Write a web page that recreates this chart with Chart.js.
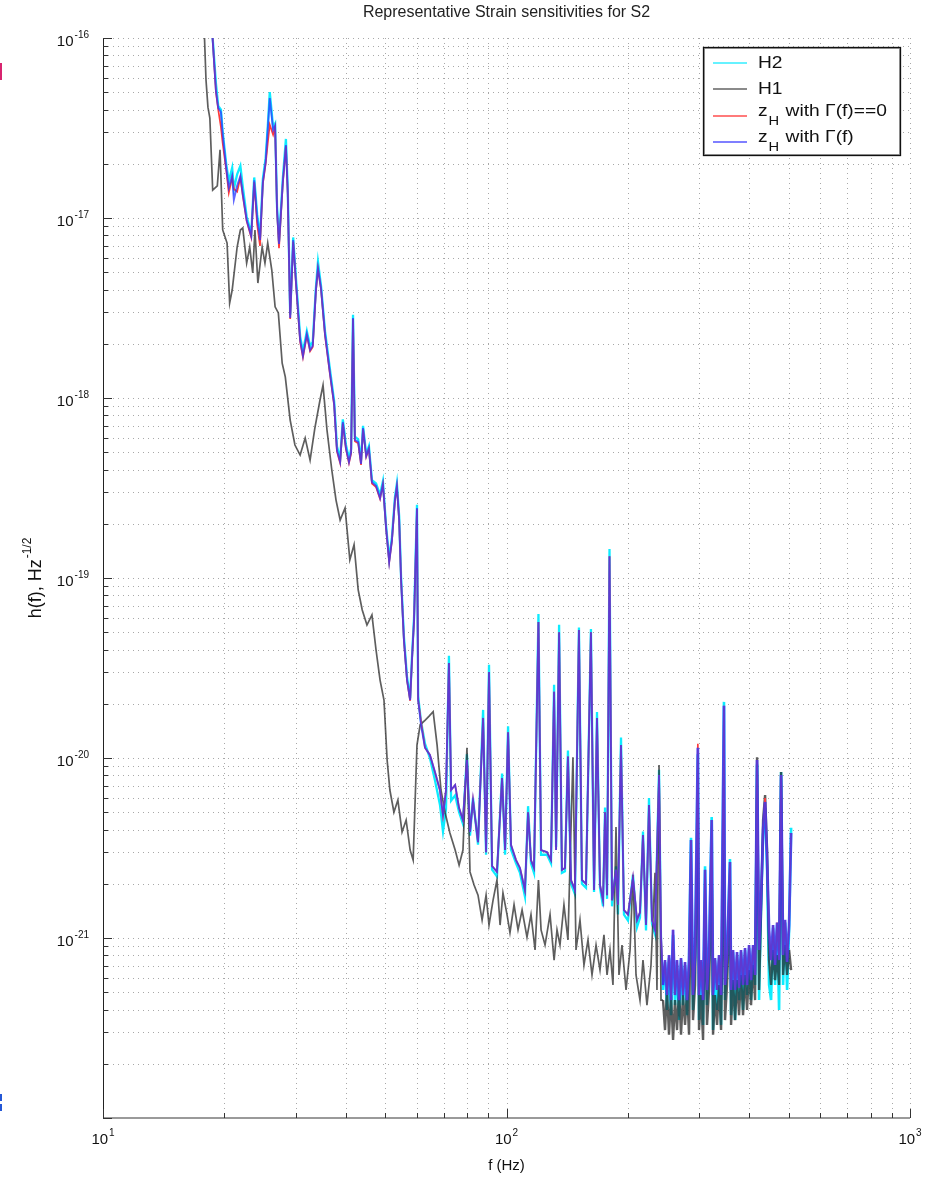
<!DOCTYPE html>
<html><head><meta charset="utf-8">
<script src="https://cdn.jsdelivr.net/npm/chart.js@4.4.1/dist/chart.umd.min.js"></script>
<style>html,body{margin:0;padding:0;background:#fff;}#wrap{width:944px;height:1180px;}</style>
</head><body><div id="wrap"><canvas id="c" width="944" height="1180"></canvas></div>
<script>
// ---- data (f in Hz, h in Hz^-1/2) ----
// Low / mid frequency part, shared by H2 and the two z_H curves
const freqZLow = [18.6,19.05,19.3,19.6,19.8,20.2,20.5,20.9,21.1,21.5,21.9,22.2,22.7,23.3,23.7,24.1,24.5,24.9,25.3,25.6,
25.9,26.4,26.7,27.0,27.3,27.9,28.4,28.7,29.1,29.6,30.1,30.8,31.3,32.0,32.6,33.1,33.7,34.1,34.7,35.5,
36.5,37.4,38.0,38.7,39.3,40.0,40.7,41.2,41.65,42.1,42.9,43.6,44.1,44.9,45.6,46.4,47.5,48.6,49.4,50.3,
51.2,52.0,52.9,53.5,54.2,54.8,55.7,56.7,57.7,58.3,59.0,60.0,60.4,61.4,62.8,64.6,66.5,68.4,69.6,70.8,
72.0,72.9,74.6,76.3,78.0,79.8,81.2,82.6,85.0,87.5,89.0,90.5,92.1,94.7,97.5,99.2,100.9,102.6,105.6,108.0,
111.1,113.1,115.0,117.0,120.0,121.8,126.0,128.9,131.2,132.7,135.0,137.2,139.6,142.0,144.5,147.8,151.2,153.8,157.4,161.9,
164.8,167.6,170.5,173.5,175.5,177.5,180.0,182.6,186.8,188.9,192.2,195.5,200.0,205.8,210.6,214.2,217.9,221.7,225.5,229.4,
233.4,238.8,241.5];

const h2Low = [1.18e-16,5.6e-17,4.2e-17,4.0e-17,3.0e-17,2.0e-17,1.6e-17,1.9e-17,1.45e-17,1.75e-17,1.95e-17,1.5e-17,1.02e-17,8.2e-18,1.68e-17,1.05e-17,7.8e-18,1.65e-17,2.15e-17,3.2e-17,
5.0e-17,3.2e-17,3.35e-17,1.15e-17,7.4e-18,1.65e-17,2.75e-17,1.45e-17,2.9e-18,7.8e-18,4.5e-18,2.2e-18,1.8e-18,2.35e-18,1.95e-18,2.05e-18,4.1e-18,5.7e-18,4.2e-18,2.35e-18,
1.45e-18,9.6e-19,5.4e-19,4.6e-19,7.6e-19,5.5e-19,4.6e-19,5.2e-19,2.9e-18,6.1e-19,5.9e-19,4.5e-19,7.0e-19,4.9e-19,5.4e-19,3.5e-19,3.35e-19,2.9e-19,3.45e-19,1.95e-19,
1.28e-19,1.68e-19,2.8e-19,3.35e-19,2.2e-19,1.0e-19,4.7e-20,2.8e-20,2.15e-20,3.6e-20,6.0e-20,2.55e-19,2.2e-20,1.6e-20,1.2e-20,1.0e-20,7.5e-21,5.5e-21,3.9e-21,5.2e-21,
3.7e-20,5.8e-21,6.2e-21,5.0e-21,4.3e-21,1.05e-20,3.7e-21,6.0e-21,3.3e-21,1.85e-20,2.9e-21,3.3e-20,2.4e-21,2.2e-21,8.2e-21,2.9e-21,1.5e-20,3.1e-21,2.6e-21,2.3e-21,
1.7e-21,5.4e-21,2.6e-21,2.3e-21,6.3e-20,2.9e-21,2.9e-21,2.6e-21,2.55e-20,3.2e-21,5.5e-20,2.3e-21,2.35e-21,1.1e-20,2.0e-21,1.75e-21,5.3e-20,2.0e-21,1.9e-21,5.2e-20,
1.8e-21,1.8e-20,1.9e-21,1.5e-21,5.3e-21,1.65e-21,1.45e-19,1.5e-21,2.5e-21,1.35e-21,1.3e-20,1.35e-21,1.25e-21,2.25e-21,1.15e-21,1.3e-21,3.9e-21,1.1e-21,6.0e-21,1.2e-21,
1.05e-21,8.6e-21,9.5e-22];

const zGamma0Low = [1.18e-16,5.0e-17,4.0e-17,3.2e-17,2.6e-17,1.85e-17,1.38e-17,1.68e-17,1.45e-17,1.4e-17,1.68e-17,1.33e-17,9.6e-18,7.8e-18,1.58e-17,9.2e-18,7.0e-18,1.55e-17,2.0e-17,2.6e-17,
3.3e-17,2.9e-17,3.2e-17,1.08e-17,6.8e-18,1.55e-17,2.5e-17,1.36e-17,2.75e-18,7.4e-18,4.2e-18,2.05e-18,1.68e-18,2.22e-18,1.82e-18,1.92e-18,3.9e-18,5.2e-18,4.0e-18,2.22e-18,
1.36e-18,9.1e-19,5.05e-19,4.35e-19,7.2e-19,5.2e-19,4.35e-19,4.9e-19,2.75e-18,5.75e-19,5.6e-19,4.25e-19,6.7e-19,4.7e-19,5.2e-19,3.35e-19,3.2e-19,2.75e-19,3.3e-19,1.88e-19,
1.22e-19,1.6e-19,2.68e-19,3.2e-19,2.08e-19,9.6e-20,4.45e-20,2.68e-20,2.08e-20,3.45e-20,5.75e-20,2.42e-19,2.1e-20,1.6e-20,1.14e-20,1.04e-20,8.3e-21,6.6e-21,4.8e-21,6.6e-21,
3.37e-20,6.64e-21,7.08e-21,5.27e-21,4.52e-21,9.75e-21,3.88e-21,5.84e-21,3.41e-21,1.67e-20,3.0e-21,3.0e-20,2.51e-21,2.33e-21,7.74e-21,3.08e-21,1.39e-20,3.29e-21,2.71e-21,2.45e-21,
1.85e-21,5.0e-21,2.71e-21,2.45e-21,5.7e-20,3.08e-21,3.0e-21,2.71e-21,2.33e-20,3.08e-21,5.0e-20,2.39e-21,2.45e-21,1.02e-20,2.1e-21,1.85e-21,5.14e-20,2.1e-21,2.0e-21,5.0e-20,
1.85e-21,1.67e-20,1.97e-21,1.62e-21,5.0e-21,1.73e-21,1.32e-19,1.62e-21,2.39e-21,1.53e-21,1.18e-20,1.43e-21,1.35e-21,2.15e-21,1.26e-21,1.39e-21,3.73e-21,1.18e-21,5.48e-21,1.26e-21,
1.11e-21,8.04e-21,1.04e-21];

const zGammaLow = [1.18e-16,5.1e-17,4.08e-17,3.88e-17,2.9e-17,1.9e-17,1.47e-17,1.71e-17,1.26e-17,1.51e-17,1.71e-17,1.36e-17,9.75e-18,7.94e-18,1.62e-17,1.0e-17,7.54e-18,1.58e-17,2.05e-17,3.08e-17,
4.64e-17,3.08e-17,3.25e-17,1.11e-17,7.17e-18,1.58e-17,2.54e-17,1.39e-17,2.78e-18,7.54e-18,4.3e-18,2.1e-18,1.71e-18,2.27e-18,1.85e-18,1.95e-18,3.98e-18,5.27e-18,4.08e-18,2.27e-18,
1.39e-18,9.26e-19,5.14e-19,4.41e-19,7.36e-19,5.27e-19,4.41e-19,5.0e-19,2.78e-18,5.84e-19,5.7e-19,4.3e-19,6.81e-19,4.76e-19,5.27e-19,3.41e-19,3.25e-19,2.78e-19,3.33e-19,1.9e-19,
1.23e-19,1.62e-19,2.71e-19,3.25e-19,2.1e-19,9.75e-20,4.52e-20,2.71e-20,2.1e-20,3.5e-20,5.84e-20,2.45e-19,2.1e-20,1.53e-20,1.14e-20,1.04e-20,8.36e-21,6.64e-21,4.82e-21,6.64e-21,
3.37e-20,6.64e-21,7.08e-21,5.27e-21,4.52e-21,9.75e-21,3.88e-21,5.84e-21,3.41e-21,1.67e-20,3.0e-21,3.0e-20,2.51e-21,2.33e-21,7.74e-21,3.08e-21,1.39e-20,3.29e-21,2.71e-21,2.45e-21,
1.85e-21,5.0e-21,2.71e-21,2.45e-21,5.7e-20,3.08e-21,3.0e-21,2.71e-21,2.33e-20,3.08e-21,5.0e-20,2.39e-21,2.45e-21,1.02e-20,2.1e-21,1.85e-21,5.14e-20,2.1e-21,2.0e-21,5.0e-20,
1.85e-21,1.67e-20,1.97e-21,1.62e-21,5.0e-21,1.73e-21,1.32e-19,1.62e-21,2.39e-21,1.53e-21,1.18e-20,1.43e-21,1.35e-21,2.15e-21,1.26e-21,1.39e-21,3.73e-21,1.18e-21,5.48e-21,1.26e-21,
1.11e-21,8.04e-21,1.04e-21];

// Low / mid frequency part of H1
const freqH1Low = [17.8,18.0,18.2,18.4,18.7,19.2,19.5,19.8,20.3,20.6,20.9,21.5,21.9,22.2,22.7,23.1,23.5,23.8,24.2,24.8,
25.2,25.6,26.2,26.7,27.2,27.8,28.3,29.1,29.9,30.8,31.7,32.6,33.5,34.5,35.1,35.9,36.9,37.8,38.7,39.8,
40.9,41.9,42.9,43.9,45.1,46.4,47.5,48.6,49.7,50.6,51.4,52.6,53.8,55.1,56.4,57.7,58.7,60.0,61.1,62.8,
64.3,65.8,67.3,68.8,70.4,72.4,74.6,76.3,78.0,79.8,81.2,83.1,85.0,87.0,89.0,90.5,92.6,94.7,96.4,98.0,
100.3,102.0,104.4,106.8,109.3,112.4,115.0,117.7,120.0,121.8,124.6,128.2,131.2,133.4,135.7,138.8,142.0,146.1,148.7,152.1,
155.6,159.2,162.9,166.7,170.5,174.4,177.5,180.5,183.6,186.8,190.0,193.3,197.8,202.4,205.8,209.4,214.2,217.9,222.9,228.1,
233.4,236.0,238.8,241.5];

const h1Low = [1.18e-16,5.84e-17,4.13e-17,3.59e-17,1.43e-17,1.51e-17,2.39e-17,8.58e-18,7.26e-18,3.37e-18,3.98e-18,6.9e-18,8.58e-18,8.8e-18,5.62e-18,6.9e-18,4.95e-18,8.58e-18,4.35e-18,6.9e-18,
5.62e-18,7.26e-18,5.14e-18,3.21e-18,2.97e-18,1.56e-18,1.31e-18,7.54e-19,5.48e-19,4.82e-19,5.99e-19,4.52e-19,6.81e-19,9.75e-19,1.18e-18,6.64e-19,3.98e-19,2.71e-19,2.1e-19,2.45e-19,
1.26e-19,1.53e-19,8.58e-20,6.64e-20,5.48e-20,6.23e-20,3.98e-20,2.71e-20,2.1e-20,9.75e-21,6.64e-21,5.0e-21,5.84e-21,3.88e-21,4.52e-21,3.08e-21,2.71e-21,1.18e-20,1.53e-20,1.62e-20,
1.71e-20,1.81e-20,1.18e-20,6.64e-21,5.0e-21,3.83e-21,3.08e-21,2.54e-21,3.08e-21,1.14e-20,2.33e-21,1.97e-21,1.73e-21,1.26e-21,1.73e-21,1.18e-21,1.62e-21,2.1e-21,1.18e-21,1.78e-21,
1.35e-21,1.07e-21,1.53e-21,1.11e-21,1.43e-21,1.01e-21,1.35e-21,8.58e-22,2.1e-21,1.11e-21,9.14e-22,1.35e-21,7.54e-22,1.11e-21,9.14e-22,1.53e-21,9.75e-22,1.01e-20,8.58e-22,1.26e-21,
7.08e-22,9.75e-22,6.23e-22,9.14e-22,6.64e-22,1.04e-21,6.23e-22,8.58e-22,5.48e-22,4.13e-21,6.23e-22,9.14e-22,5.14e-22,8.58e-22,2.24e-21,6.23e-22,4.52e-22,7.54e-22,4.24e-22,7.08e-22,
2.3e-21,5.14e-22,9.14e-21,4.52e-22];

// High frequency noise band (shared frequencies for all four curves)
const freqBand = [244.3,247.1,249.9,252.8,255.7,258.7,261.6,264.6,267.7,270.7,273.8,277.0,280.2,283.4,286.6,289.9,293.3,298.0,300.0,303.5,
307.0,310.5,314.0,317.6,322.5,325.0,328.7,332.5,336.3,340.2,345.9,348.0,352.0,358.0,360.2,364.3,368.5,372.7,377.0,381.3,
385.7,390.1,394.6,399.2,403.7,408.4,413.1,417.8,422.6,427.5,432.4,437.4,442.4,447.5,452.6,457.8,463.1,468.4,473.8,479.2,
484.7,490.3,495.9,501.6,507.4];

const h2Band = [5.14e-22,7.36e-22,3.98e-22,7.74e-22,3.73e-22,1.04e-21,4.24e-22,7.08e-22,3.5e-22,7.54e-22,
4.24e-22,7.08e-22,3.73e-22,7.36e-22,3.6e-21,3.98e-22,7.74e-22,1.05e-20,3.5e-22,7.36e-22,
3.29e-22,2.5e-21,4.24e-22,7.74e-22,4.7e-21,3.08e-22,7.54e-22,3.98e-22,7.74e-22,3.29e-22,
2.05e-20,4.52e-22,7.74e-22,2.75e-21,3.73e-22,8.36e-22,3.5e-22,8.04e-22,4.52e-22,8.36e-22,
3.98e-22,8.58e-22,4.82e-22,8.8e-22,4.52e-22,8.8e-22,5.48e-22,9.2e-21,4.52e-22,1.53e-21,
3.73e-21,5.27e-21,2.39e-21,5.48e-22,4.52e-22,1.14e-21,5.48e-22,1.18e-21,3.98e-22,8.36e-21,
5.48e-22,1.22e-21,5.14e-22,1.11e-21,4.1e-21];

const h1Band = [4.52e-22,3.08e-22,5.14e-22,2.9e-22,4.82e-22,2.71e-22,4.52e-22,3.08e-22,5.14e-22,2.9e-22,
4.82e-22,3.29e-22,5.14e-22,2.9e-22,2.1e-21,3.5e-22,5.48e-22,5.27e-21,3.08e-22,4.82e-22,
2.71e-22,1.62e-21,3.29e-22,5.14e-22,2.39e-21,2.9e-22,4.82e-22,3.29e-22,5.48e-22,3.08e-22,
3.08e-21,3.5e-22,5.48e-22,1.62e-21,3.29e-22,5.84e-22,3.5e-22,5.84e-22,3.73e-22,6.23e-22,
3.73e-22,6.23e-22,3.98e-22,6.64e-22,4.24e-22,7.08e-22,4.52e-22,1.01e-20,5.14e-22,1.43e-21,
4.52e-21,6.23e-21,3.08e-21,7.54e-22,5.48e-22,8.58e-22,5.84e-22,8.04e-22,5.48e-22,8.36e-21,
6.23e-22,9.14e-22,6.23e-22,8.58e-22,6.64e-22];

const zGamma0Band = [5.48e-22,7.54e-22,4.82e-22,8.04e-22,4.52e-22,1.11e-21,4.82e-22,7.54e-22,4.52e-22,7.74e-22,
4.82e-22,7.36e-22,4.52e-22,7.54e-22,3.5e-21,4.82e-22,8.04e-22,1.2e-20,4.82e-22,7.54e-22,
4.52e-22,2.39e-21,5.14e-22,8.04e-22,4.52e-21,4.82e-22,7.74e-22,5.14e-22,8.04e-22,4.82e-22,
1.95e-20,5.48e-22,8.04e-22,2.64e-21,5.14e-22,8.58e-22,5.14e-22,8.36e-22,5.3e-22,8.58e-22,
5.48e-22,8.8e-22,5.48e-22,9.14e-22,5.84e-22,9.14e-22,6.23e-22,9.75e-21,8.58e-22,1.62e-21,
3.98e-21,6.0e-21,2.71e-21,1.11e-21,7.54e-22,1.18e-21,7.08e-22,1.22e-21,7.54e-22,8.04e-21,
8.04e-22,1.26e-21,7.36e-22,1.18e-21,3.83e-21];

const zGammaBand = [5.48e-22,7.54e-22,4.82e-22,8.04e-22,4.52e-22,1.11e-21,4.82e-22,7.54e-22,4.52e-22,7.74e-22,
4.82e-22,7.36e-22,4.52e-22,7.54e-22,3.5e-21,4.82e-22,8.04e-22,1.14e-20,4.82e-22,7.54e-22,
4.52e-22,2.39e-21,5.14e-22,8.04e-22,4.52e-21,4.82e-22,7.74e-22,5.14e-22,8.04e-22,4.82e-22,
1.95e-20,5.48e-22,8.04e-22,2.64e-21,5.14e-22,8.58e-22,5.14e-22,8.36e-22,5.3e-22,8.58e-22,
5.48e-22,8.8e-22,5.48e-22,9.14e-22,5.84e-22,9.14e-22,6.23e-22,9.75e-21,8.58e-22,1.62e-21,
3.98e-21,5.7e-21,2.71e-21,1.11e-21,7.54e-22,1.18e-21,7.08e-22,1.22e-21,7.54e-22,8.04e-21,
8.04e-22,1.26e-21,7.36e-22,1.18e-21,3.83e-21];

// ---- labels ----
const seriesNames = ['H2', 'H1', 'z_H with \u0393(f)==0', 'z_H with \u0393(f)'];
const xTickValues = [10, 100, 1000];
const xTickExps = ['1', '2', '3'];
const yTickValues = [1e-21, 1e-20, 1e-19, 1e-18, 1e-17, 1e-16];
const yTickExps = ['-21', '-20', '-19', '-18', '-17', '-16'];
const chartTitle = 'Representative Strain sensitivities for S2';
const xTitle = 'f (Hz)';
const yTitleMain = 'h(f), Hz';
const yTitleExp = '-1/2';

// ---- styles ----
const FONT = '"Liberation Sans", Arial, Helvetica, sans-serif';
const colors = ['rgba(0,235,255,0.95)', 'rgba(40,40,40,0.75)', '#ff3a3a', 'rgba(45,55,255,0.76)'];
const legendColors = ['#66f2ff', '#8a8a8a', '#ff7a7a', '#7f7fff'];
const widths = [2.3, 1.7, 1.7, 1.9];
const bandStart = 244;
const bandWidths = [2.6, 2.4, 1.7, 2.8];

const pts = (xs, ys) => xs.map((x, i) => ({x: x, y: ys[i]}));
const segW = i => ({borderWidth: c => (c.p0.parsed.x >= bandStart ? bandWidths[i] : undefined)});

function powLabel(ctx, base, exp, x, y, align, bs, es) {
  ctx.font = bs + 'px ' + FONT; const wb = ctx.measureText(base).width;
  ctx.font = es + 'px ' + FONT; const we = ctx.measureText(exp).width;
  const tot = wb + we + 1;
  const x0 = align === 'center' ? x - tot / 2 : (align === 'right' ? x - tot : x);
  ctx.textAlign = 'left'; ctx.textBaseline = 'middle';
  ctx.font = bs + 'px ' + FONT; ctx.fillText(base, x0, y);
  ctx.font = es + 'px ' + FONT; ctx.fillText(exp, x0 + wb + 1, y - bs * 0.45);
  return tot;
}
function wideText(ctx, txt, x, y, sx) {
  ctx.save(); ctx.translate(x, y); ctx.scale(sx, 1); ctx.fillText(txt, 0, 0); ctx.restore();
  return ctx.measureText(txt).width * sx;
}
function gridVals(lo, hi) {
  const v = [];
  for (let e = lo; e < hi; e++) for (let m = 1; m <= 9; m++) v.push(m * Math.pow(10, e));
  v.push(Math.pow(10, hi));
  return v;
}
const isDecade = v => Math.abs(Math.log10(v) - Math.round(Math.log10(v))) < 1e-9;

const decor = {
  id: 'decor',
  beforeDatasetsDraw(chart) {
    const {ctx, chartArea: a, scales: {x, y}} = chart;
    ctx.save();
    ctx.strokeStyle = '#a8a8a8'; ctx.lineWidth = 1; ctx.setLineDash([1, 4]);
    gridVals(1, 3).forEach(v => {
      const px = Math.round(x.getPixelForValue(v)) + 0.5;
      ctx.beginPath(); ctx.moveTo(px, a.top); ctx.lineTo(px, a.bottom); ctx.stroke();
    });
    gridVals(-22, -16).forEach(v => {
      const py = Math.round(y.getPixelForValue(v)) + 0.5;
      ctx.beginPath(); ctx.moveTo(a.left, py); ctx.lineTo(a.right, py); ctx.stroke();
    });
    ctx.restore();
  },
  afterDatasetsDraw(chart) {
    const {ctx, chartArea: a, scales: {x, y}} = chart;
    ctx.save();
    ctx.setLineDash([]);
    ctx.strokeStyle = '#9a9a9a'; ctx.lineWidth = 2;
    ctx.beginPath(); ctx.moveTo(a.left, a.bottom); ctx.lineTo(a.right, a.bottom); ctx.stroke();
    ctx.strokeStyle = '#222'; ctx.lineWidth = 1;
    ctx.beginPath(); ctx.moveTo(a.left + 0.5, a.top); ctx.lineTo(a.left + 0.5, a.bottom); ctx.stroke();
    ctx.strokeStyle = '#333';
    gridVals(1, 3).forEach(v => {
      const px = Math.round(x.getPixelForValue(v)) + 0.5;
      ctx.beginPath(); ctx.moveTo(px, a.bottom); ctx.lineTo(px, a.bottom - (isDecade(v) ? 9 : 5)); ctx.stroke();
    });
    gridVals(-22, -16).forEach(v => {
      const py = Math.round(y.getPixelForValue(v)) + 0.5;
      ctx.beginPath(); ctx.moveTo(a.left, py); ctx.lineTo(a.left + (isDecade(v) ? 9 : 5), py); ctx.stroke();
    });
    // tick labels
    ctx.fillStyle = '#111';
    xTickValues.forEach((v, i) => powLabel(ctx, '10', xTickExps[i], x.getPixelForValue(v), a.bottom + 22, 'center', 15, 10));
    yTickValues.forEach((v, i) => powLabel(ctx, '10', yTickExps[i], a.left - 14, y.getPixelForValue(v) + 4, 'right', 15, 10));
    // titles
    const cx = (a.left + a.right) / 2;
    ctx.textAlign = 'center'; ctx.textBaseline = 'middle';
    ctx.font = '16px ' + FONT; ctx.fillStyle = '#222';
    ctx.fillText(chartTitle, cx, 13);
    ctx.font = '15px ' + FONT; ctx.fillStyle = '#111';
    ctx.fillText(xTitle, cx, a.bottom + 48);
    ctx.save();
    ctx.translate(36, (a.top + a.bottom) / 2);
    ctx.rotate(-Math.PI / 2);
    powLabel(ctx, yTitleMain, yTitleExp, 0, 0, 'center', 18, 12);
    ctx.restore();
    // legend
    const lx = 703, ly = 47, lw = 197, lh = 108;
    ctx.fillStyle = '#fff'; ctx.fillRect(lx, ly, lw, lh);
    ctx.strokeStyle = '#a0a0a0'; ctx.lineWidth = 1;
    ctx.strokeRect(lx + 1.5, ly + 1.5, lw - 2, lh - 2);
    ctx.strokeStyle = '#111'; ctx.lineWidth = 1.3;
    ctx.strokeRect(lx + 0.5, ly + 0.5, lw, lh);
    const rows = [63, 89, 114, 140];
    const SX = 1.13;
    rows.forEach((ry, i) => {
      const sy = ry + (i > 1 ? 2 : 0);
      ctx.strokeStyle = legendColors[i]; ctx.lineWidth = 2;
      ctx.beginPath(); ctx.moveTo(713, sy); ctx.lineTo(747, sy); ctx.stroke();
      ctx.fillStyle = '#111'; ctx.textAlign = 'left'; ctx.textBaseline = 'middle';
      const name = seriesNames[i];
      if (name.indexOf('z_H') === 0) {
        ctx.font = '17px ' + FONT; const wz = wideText(ctx, 'z', 758, ry - 3, SX);
        ctx.font = '13px ' + FONT; const wh = wideText(ctx, 'H', 758 + wz + 1, ry + 7, SX);
        ctx.font = '17px ' + FONT; wideText(ctx, name.slice(3), 758 + wz + wh + 2, ry - 3, SX);
      } else {
        ctx.font = '17px ' + FONT; wideText(ctx, name, 758, ry, SX);
      }
    });
    // small marks on the left edge of the source picture
    ctx.fillStyle = '#d8246f'; ctx.fillRect(0, 63, 2, 17);
    ctx.fillStyle = '#2457d6'; ctx.fillRect(0, 1094, 2, 7); ctx.fillRect(0, 1104, 2, 7);
    ctx.restore();
  }
};

new Chart(document.getElementById('c'), {
  type: 'line',
  data: {
    datasets: [
      {label: seriesNames[0], data: pts(freqZLow.concat(freqBand), h2Low.concat(h2Band)), borderColor: colors[0], borderWidth: widths[0], order: 4, segment: segW(0)},
      {label: seriesNames[1], data: pts(freqH1Low.concat(freqBand), h1Low.concat(h1Band)), borderColor: colors[1], borderWidth: widths[1], order: 3, segment: segW(1)},
      {label: seriesNames[2], data: pts(freqZLow.concat(freqBand), zGamma0Low.concat(zGamma0Band)), borderColor: colors[2], borderWidth: widths[2], order: 2},
      {label: seriesNames[3], data: pts(freqZLow.concat(freqBand), zGammaLow.concat(zGammaBand)), borderColor: colors[3], borderWidth: widths[3], order: 1, segment: segW(3)}
    ]
  },
  options: {
    responsive: false, animation: false, devicePixelRatio: 1,
    layout: {padding: {left: 103, right: 34, top: 38, bottom: 62}},
    elements: {point: {radius: 0}, line: {tension: 0, fill: false, borderJoinStyle: 'miter'}},
    plugins: {legend: {display: false}, tooltip: {enabled: false}, title: {display: false}},
    scales: {
      x: {type: 'logarithmic', min: 10, max: 1000, display: false},
      y: {type: 'logarithmic', min: 1e-22, max: 1e-16, display: false}
    }
  },
  plugins: [decor]
});
</script>
</body></html>
